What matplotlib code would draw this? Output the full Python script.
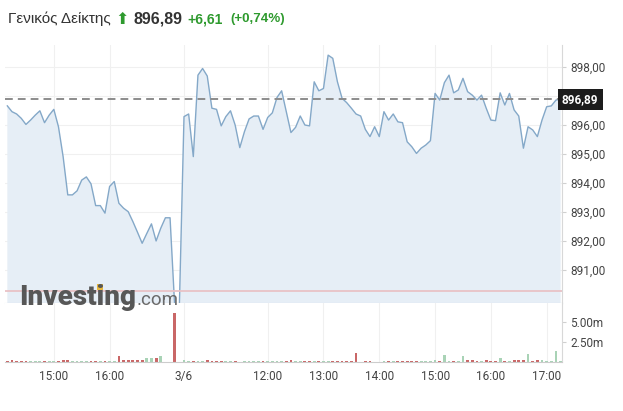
import matplotlib
matplotlib.use("Agg")
import matplotlib.pyplot as plt
import matplotlib.patches as mpatches
import pandas as pd

# 5-minute bars, two sessions shown back to back
day1 = pd.date_range("2020-06-02 14:10", "2020-06-02 17:15", freq="5min")
day2 = pd.date_range("2020-06-03 10:30", "2020-06-03 17:15", freq="5min")
times = day1.append(day2)

price = [
    # day 1
    896.66, 896.46, 896.38, 896.23, 896.02, 896.17, 896.34, 896.49, 896.08, 896.34,
    896.54, 895.94, 894.91, 893.59, 893.59, 893.73, 894.10, 894.21, 893.97, 893.22,
    893.22, 892.96, 893.88, 894.05, 893.30, 893.13, 893.01, 892.67, 892.30, 891.92,
    892.26, 892.59, 892.00, 892.44, 892.80, 892.80, 889.75, 889.75,
    # day 2
    896.29, 896.38, 894.91, 897.72, 897.95, 897.69, 896.58, 896.54, 895.97, 896.29,
    896.49, 896.00, 895.22, 895.77, 896.21, 896.31, 896.31, 895.85, 896.26, 896.42,
    896.95, 897.18, 896.46, 895.74, 895.92, 896.31, 896.00, 895.97, 897.49, 897.18,
    897.26, 898.41, 898.30, 897.49, 896.92, 896.77, 896.58, 896.38, 896.31, 895.85,
    895.60, 895.94, 895.60, 896.46, 896.17, 896.38, 896.11, 896.08, 895.42, 895.25,
    895.02, 895.20, 895.31, 895.46, 897.09, 896.86, 897.46, 897.72, 897.11, 897.21,
    897.61, 897.15, 897.03, 896.86, 897.03, 896.58, 896.17, 896.15, 897.11, 896.69,
    897.09, 896.52, 896.31, 895.20, 895.94, 895.83, 895.60, 896.17, 896.63, 896.66,
    896.86, 896.89,
]

# volume in millions
volume = [
    # day 1
    0.10, 0.30, 0.10, 0.10, 0.08, 0.10, 0.10, 0.08, 0.10, 0.10,
    0.08, 0.10, 0.30, 0.20, 0.10, 0.12, 0.08, 0.10, 0.08, 0.10,
    0.10, 0.08, 0.10, 0.10, 0.70, 0.25, 0.25, 0.25, 0.30, 0.30,
    0.45, 0.45, 0.55, 0.70, 0.05, 0.05, 6.05, 0.05,
    # day 2
    0.30, 0.10, 0.10, 0.08, 0.10, 0.20, 0.10, 0.10, 0.08, 0.10,
    0.08, 0.12, 0.05, 0.08, 0.10, 0.08, 0.10, 0.08, 0.12, 0.10,
    0.08, 0.10, 0.12, 0.20, 0.10, 0.12, 0.10, 0.12, 0.10, 0.12,
    0.10, 0.08, 0.10, 0.10, 0.08, 0.10, 0.10, 1.08, 0.05, 0.10,
    0.10, 0.05, 0.05, 0.08, 0.10, 0.08, 0.10, 0.10, 0.08, 0.10,
    0.08, 0.10, 0.08, 0.10, 0.30, 0.12, 0.83, 0.10, 0.08, 0.10,
    0.70, 0.20, 0.20, 0.15, 0.10, 0.20, 0.15, 0.10, 0.45, 0.15,
    0.10, 0.30, 0.30, 0.30, 0.95, 0.10, 0.25, 0.25, 0.10, 0.08,
    1.33, 0.10,
]

last_price = 896.89
prev_close = 890.28
change = 6.61
change_pct = 0.74

tick_times = ["2020-06-02 15:00", "2020-06-02 16:00", "2020-06-03 10:30",
              "2020-06-03 12:00", "2020-06-03 13:00", "2020-06-03 14:00",
              "2020-06-03 15:00", "2020-06-03 16:00", "2020-06-03 17:00"]
tick_labels = ["15:00", "16:00", "3/6", "12:00", "13:00", "14:00", "15:00", "16:00", "17:00"]

x = list(range(len(times)))
tick_pos = [times.get_loc(pd.Timestamp(t)) for t in tick_times]
bar_colors = ["#c96767" if i == 0 or price[i] < price[i - 1] else "#a9d3b6" for i in x]

plt.rcParams["font.family"] = ["Roboto", "DejaVu Sans"]

W, H = 623, 411
fig = plt.figure(figsize=(W / 100, H / 100), dpi=100)
ax = fig.add_axes([5 / W, 1 - 303 / H, 557 / W, 258 / H])
axv = fig.add_axes([5 / W, 1 - 362 / H, 557 / W, 59 / H], sharex=ax)

# price panel
ax.fill_between(x, price, 880, color="#e6eef6", lw=0)
ax.plot(x, price, color="#84a8c8", lw=1.0)
ax.axhline(prev_close, color="#e9c2c6", lw=1.3)
ax.axhline(last_price, color="#8c8c8c", lw=1.4, ls=(0, (4, 2.6)))
ax.set_ylim(889.86, 898.76)
ax.set_xlim(-0.5, 119.3)

yt = list(range(891, 899))
ax.set_yticks(yt)
ax.set_yticklabels(["" if v == 897 else f"{v:.2f}".replace(".", ",") for v in yt])
ax.yaxis.tick_right()
ax.tick_params(axis="y", length=3, color="#d0d0d0", labelsize=8.5, labelcolor="#444444", pad=3)
ax.tick_params(axis="x", length=0, labelbottom=False)
ax.set_xticks(tick_pos)
ax.grid(color="#f0f0f0", lw=0.8)
ax.set_axisbelow(True)
for s in ["left", "top"]:
    ax.spines[s].set_visible(False)
ax.spines["right"].set_color("#d8d8d8")
ax.spines["bottom"].set_color("#cfdbe6")

ax.text(1.0, last_price, f"{last_price:.2f}".replace(".", ","), transform=ax.get_yaxis_transform(),
        ha="left", va="center", color="white", fontsize=8.5, fontweight="bold",
        bbox=dict(boxstyle="square,pad=0.35", fc="#1c1c1c", ec="none"))

# volume panel
axv.bar(x, volume, width=0.6, color=bar_colors)
axv.set_ylim(0, 7.3)
axv.set_yticks([2.5, 5.0])
axv.set_yticklabels(["2.50m", "5.00m"])
axv.yaxis.tick_right()
axv.tick_params(axis="y", length=3, color="#d0d0d0", labelsize=8.5, labelcolor="#444444", pad=3)
axv.set_xticks(tick_pos)
axv.set_xticklabels(tick_labels)
axv.tick_params(axis="x", length=0, labelsize=8.5, labelcolor="#444444", pad=6)
axv.grid(axis="x", color="#f0f0f0", lw=0.8)
axv.set_axisbelow(True)
for s in ["left", "top"]:
    axv.spines[s].set_visible(False)
axv.spines["right"].set_color("#d8d8d8")
axv.spines["bottom"].set_color("#cccccc")

# header
hy = 1 - 19 / H
fig.text(8 / W, hy, "Γενικός Δείκτης", fontsize=11, color="#333333", va="center",
         family="Liberation Sans")
fig.text(115 / W, hy, "⬆", fontsize=11.5, color="#2e9a2e", va="center", family="DejaVu Sans")
fig.text(133 / W, hy, f"{last_price:.2f}".replace(".", ","), fontsize=11.5, fontweight="bold",
         color="#333333", va="center", family="Liberation Sans")
fig.text(187 / W, hy, f"+{change:.2f}".replace(".", ","), fontsize=10, fontweight="bold",
         color="#2e9a2e", va="center", family="Liberation Sans")
fig.text(230 / W, hy, f"(+{change_pct:.2f}%)".replace(".", ","), fontsize=9.6, fontweight="bold",
         color="#2e9a2e", va="center", family="Liberation Sans")

# watermark
wm_kw = dict(fontsize=20, fontweight="heavy", va="baseline", family="Roboto")
wm = fig.text(19 / W, 1 - 305 / H, "Investing", color="#575757", **wm_kw)
rend = fig.canvas.get_renderer()
bb = wm.get_window_extent(renderer=rend)
tmp_a = fig.text(19 / W, 0, "Invest", alpha=0, **wm_kw)
tmp_b = fig.text(19 / W, 0, "Investi", alpha=0, **wm_kw)
xa = tmp_a.get_window_extent(renderer=rend).x1
xb = tmp_b.get_window_extent(renderer=rend).x1
tmp_a.remove()
tmp_b.remove()
fig.text(bb.x1 / W + 1 / W, 1 - 305 / H, ".com", fontsize=13.5, color="#6a6a6a", va="baseline",
         family="Roboto")
dot_c = (xa + xb) / 2
fig.patches.append(mpatches.Rectangle(((dot_c - 3) / W, 1 - 290 / H), 6 / W, 6 / H,
                                      transform=fig.transFigure, fc="#e8b73c", ec="none"))

fig.savefig("out.png", dpi=100, facecolor="white")
